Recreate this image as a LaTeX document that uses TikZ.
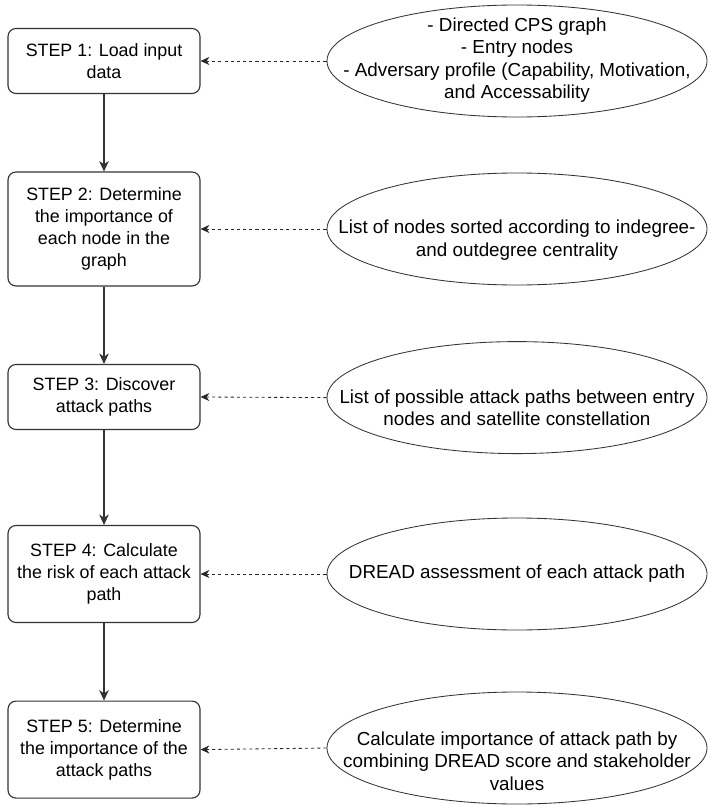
\documentclass[tikz,border=0pt]{standalone}
\usepackage{fontspec}
\setmainfont{Liberation Sans}
\usetikzlibrary{shapes.geometric,arrows.meta}

\begin{document}
\begin{tikzpicture}[
  stepbox/.style={draw=black!80, line width=0.8pt, rounded corners=0.2cm, minimum width=4.8cm, inner sep=0pt, align=center, font=\fontsize{12.7}{15.5}\selectfont},
  inputell/.style={draw=black!80, line width=0.6pt, ellipse, minimum width=9.5cm, minimum height=2.8cm, inner sep=0pt},
  elltext/.style={inner sep=0pt, align=center, font=\fontsize{13.4}{16}\selectfont},
  flow/.style={draw=black!80, line width=0.8pt, -{Stealth[length=0.26cm, width=0.24cm, inset=0.08cm]}},
  feed/.style={draw=black!85, line width=0.6pt, dash pattern=on 2.2pt off 2.2pt, -{Stealth[length=0.22cm, width=0.2cm, inset=0.07cm]}}
]
% Fix the page size
\useasboundingbox (0,0) rectangle (17.725,-20.15);
% Draw the steps
\node[stepbox, minimum height=1.625cm] (s1) at (2.6,-1.525) {STEP 1: Load input\\data};
\node[stepbox, minimum height=2.85cm] (s2) at (2.6,-5.725) {STEP 2: Determine\\the importance of\\each node in the\\graph};
\node[stepbox, minimum height=1.625cm] (s3) at (2.6,-9.925) {STEP 3: Discover\\attack paths};
\node[stepbox, minimum height=2.425cm] (s4) at (2.6,-14.35) {STEP 4: Calculate\\the risk of each attack\\path};
\node[stepbox, minimum height=2.425cm] (s5) at (2.6,-18.74) {STEP 5: Determine\\the importance of the\\attack paths};
% Draw the inputs
\node[inputell] (e1) at (12.925,-1.525) {};
\node[inputell] (e2) at (12.925,-5.725) {};
\node[inputell] (e3) at (12.925,-9.94) {};
\node[inputell] (e4) at (12.925,-14.35) {};
\node[inputell] (e5) at (12.925,-18.7) {};
% Add the input texts
\node[elltext] (t1) at (12.925,-1.5) {- Directed CPS graph\\- Entry nodes\\- Adversary profile (Capability, Motivation,\\and Accessability};
\node[elltext] (t2) at (12.925,-6.0) {List of nodes sorted according to indegree-\\and outdegree centrality};
\node[elltext] (t3) at (12.925,-10.2) {List of possible attack paths between entry\\nodes and satellite constellation};
\node[elltext] (t4) at (e4) {DREAD assessment of each attack path};
\node[elltext] (t5) at (12.925,-19.03) {Calculate importance of attack path by\\combining DREAD score and stakeholder\\values};
% Add arrows
\draw[flow] (s1) -- (s2);
\draw[flow] (s2) -- (s3);
\draw[flow] (s3) -- (s4);
\draw[flow] (s4) -- (s5);
\draw[feed] (e1.west) -- (s1.east);
\draw[feed] (e2.west) -- (s2.east);
\draw[feed] (e3.west) -- (s3.east);
\draw[feed] (e4.west) -- (s4.east);
\draw[feed] (e5.west) -- (s5.east);
\end{tikzpicture}
\end{document}
